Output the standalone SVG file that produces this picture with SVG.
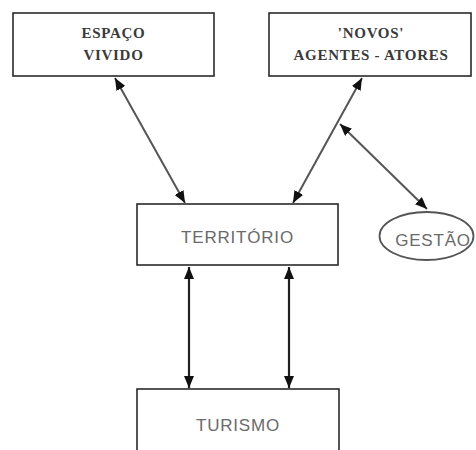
<svg xmlns="http://www.w3.org/2000/svg" width="476" height="450" viewBox="0 0 476 450">
<style>
.box{fill:#fff;stroke:#2a2a2a;stroke-width:1.6}
.serif{font-family:"Liberation Serif","Times New Roman",serif;font-weight:bold;font-size:15px;fill:#3a3a3a;text-anchor:middle;letter-spacing:0.7px}
.sans{font-family:"Liberation Sans",Arial,sans-serif;font-size:17px;fill:#6a6a6a;text-anchor:middle;letter-spacing:0.8px}
.diag{stroke:#555;stroke-width:2;fill:none}
.vert{stroke:#222;stroke-width:2.2;fill:none}
</style>
<defs>
<marker id="ah" viewBox="0 0 12 10" refX="12" refY="5" markerWidth="12" markerHeight="10" markerUnits="userSpaceOnUse" orient="auto-start-reverse">
<path d="M0,0 L12,5 L0,10 Z" fill="#111"/>
</marker>
</defs>
<g id="espaco-vivido">
<rect class="box" x="13" y="13" width="201" height="63"/>
<text class="serif" x="113.5" y="38">ESPAÇO</text>
<text class="serif" x="113.5" y="60">VIVIDO</text>
</g>
<g id="novos-agentes">
<rect class="box" x="269" y="13" width="202" height="63"/>
<text class="serif" x="371" y="38">'NOVOS'</text>
<text class="serif" x="371" y="60">AGENTES - ATORES</text>
</g>
<g id="territorio">
<rect class="box" x="137" y="204" width="201" height="61"/>
<text class="sans" x="237.5" y="243">TERRITÓRIO</text>
</g>
<g id="gestao">
<ellipse cx="426.5" cy="236" rx="47" ry="24" fill="#fff" stroke="#555" stroke-width="1.8"/>
<text class="sans" x="433" y="246">GESTÃO</text>
</g>
<g id="turismo">
<rect class="box" x="137" y="389" width="202" height="70"/>
<text class="sans" x="238" y="431">TURISMO</text>
</g>
<g id="connectors">
<line class="diag" x1="115" y1="78" x2="185" y2="203" marker-start="url(#ah)" marker-end="url(#ah)"/>
<line class="diag" x1="362" y1="78" x2="293" y2="203" marker-start="url(#ah)" marker-end="url(#ah)"/>
<line class="diag" x1="340" y1="124" x2="427" y2="209" marker-start="url(#ah)" marker-end="url(#ah)"/>
<line class="vert" x1="189" y1="267" x2="189" y2="388" marker-start="url(#ah)" marker-end="url(#ah)"/>
<line class="vert" x1="289" y1="267" x2="289" y2="388" marker-start="url(#ah)" marker-end="url(#ah)"/>
</g>
</svg>
